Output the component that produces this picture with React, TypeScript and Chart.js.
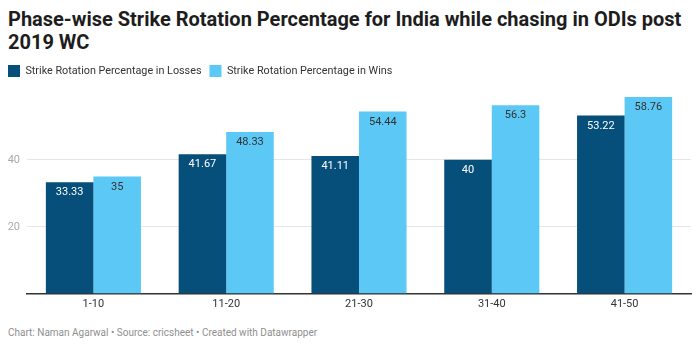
import React, { useEffect, useRef } from "react";
import { Chart, registerables } from "chart.js";

Chart.register(...registerables);

const categories = ["1-10", "11-20", "21-30", "31-40", "41-50"];
const losses = [33.33, 41.67, 41.11, 40, 53.22];
const wins = [35, 48.33, 54.44, 56.3, 58.76];
const yTicks = [0, 20, 40];
const seriesNames = ["Strike Rotation Percentage in Losses", "Strike Rotation Percentage in Wins"];

const FONT = "Roboto, 'Noto Sans', sans-serif";

const legendSpacer = {
  id: "legendSpacer",
  beforeInit(chart: any) {
    const legend = chart.legend;
    if (!legend) return;
    const orig = legend.fit;
    legend.fit = function () {
      orig.call(this);
      this.height += 10;
    };
  },
};

const valueLabels = {
  id: "valueLabels",
  afterDatasetsDraw(chart: any) {
    const ctx = chart.ctx;
    ctx.save();
    ctx.font = `11px ${FONT}`;
    ctx.textAlign = "center";
    ctx.textBaseline = "middle";
    chart.data.datasets.forEach((ds: any, di: number) => {
      const meta = chart.getDatasetMeta(di);
      meta.data.forEach((bar: any, i: number) => {
        ctx.fillStyle = di === 0 ? "#ffffff" : "#333333";
        ctx.fillText(String(ds.data[i]), bar.x, bar.y + 10.5);
      });
    });
    ctx.restore();
  },
};

export default function App() {
  const ref = useRef<HTMLCanvasElement | null>(null);

  useEffect(() => {
    if (!ref.current) return;
    const chart = new Chart(ref.current, {
      type: "bar",
      data: {
        labels: categories,
        datasets: [
          {
            label: seriesNames[0],
            data: losses,
            backgroundColor: "#054f7a",
            barPercentage: 1,
            categoryPercentage: 0.716,
          },
          {
            label: seriesNames[1],
            data: wins,
            backgroundColor: "#5bc8f5",
            barPercentage: 1,
            categoryPercentage: 0.716,
          },
        ],
      },
      options: {
        animation: false,
        responsive: false,
        maintainAspectRatio: false,
        layout: { padding: { left: 0, right: 9, top: 0, bottom: 4 } },
        plugins: {
          legend: {
            display: true,
            position: "top",
            align: "start",
            labels: {
              boxWidth: 12,
              boxHeight: 12,
              padding: 8,
              color: "#333333",
              font: { family: FONT, size: 10.8 },
            },
          },
          title: { display: false },
          tooltip: { enabled: false },
        },
        scales: {
          x: {
            grid: { display: false, drawTicks: false },
            border: { display: true, color: "#333333", width: 1.5 },
            ticks: {
              color: "#333333",
              padding: 4,
              font: { family: FONT, size: 11 },
            },
          },
          y: {
            min: 0,
            max: Math.max(...wins, ...losses),
            afterBuildTicks: (axis: any) => {
              axis.ticks = yTicks.map((v) => ({ value: v }));
            },
            afterFit: (axis: any) => {
              axis.width = 27;
            },
            grid: {
              drawTicks: false,
              color: (c: any) => (c.tick && c.tick.value === 0 ? "rgba(0,0,0,0)" : "#e6e6e6"),
            },
            border: { display: false },
            ticks: {
              padding: 7,
              color: "#aaaaaa",
              font: { family: FONT, size: 11 },
              callback: (v: any) => (v === 0 ? "" : String(v)),
            },
          },
        },
      },
      plugins: [legendSpacer, valueLabels],
    });
    return () => chart.destroy();
  }, []);

  return (
    <div style={{ position: "relative", width: 684, height: 334, fontFamily: FONT }}>
      <div
        style={{
          position: "absolute",
          left: 0,
          top: 0,
          fontSize: 20,
          lineHeight: "23px",
          fontWeight: 700,
          color: "#1d1d1d",
          whiteSpace: "nowrap",
        }}
      >
        Phase-wise Strike Rotation Percentage for India while chasing in ODIs post
        <br />
        2019 WC
      </div>
      <canvas
        ref={ref}
        width={700}
        height={262}
        style={{ position: "absolute", left: -8, top: 49, width: 700, height: 262 }}
      />
      <div
        style={{
          position: "absolute",
          left: 0,
          top: 318,
          fontSize: 10,
          lineHeight: "14px",
          color: "#8f8f8f",
          whiteSpace: "nowrap",
        }}
      >
        Chart: Naman Agarwal • Source: cricsheet • Created with Datawrapper
      </div>
    </div>
  );
}
